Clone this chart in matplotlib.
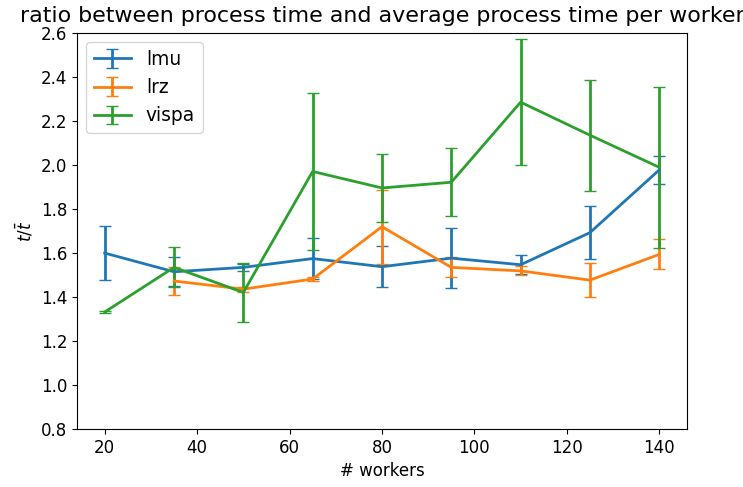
import matplotlib
matplotlib.use('Agg')
import matplotlib.pyplot as plt
import numpy as np

workers = [20, 35, 50, 65, 80, 95, 110, 125, 140]

lmu_mean = [1.60, 1.515, 1.535, 1.575, 1.538, 1.577, 1.547, 1.693, 1.978]
lmu_err = [0.123, 0.065, 0.017, 0.092, 0.094, 0.137, 0.042, 0.122, 0.064]

lrz_workers = [35, 50, 65, 80, 95, 110, 125, 140]
lrz_mean = [1.473, 1.436, 1.482, 1.72, 1.535, 1.519, 1.477, 1.594]
lrz_err = [0.062, 0.011, 0.01, 0.168, 0.045, 0.02, 0.078, 0.068]

vispa_mean = [1.332, 1.535, 1.421, 1.971, 1.896, 1.922, 2.286, 2.136, 1.990]
vispa_err = [0.003, 0.091, 0.135, 0.357, 0.155, 0.155, 0.285, 0.253, 0.366]

plt.rcParams['font.size'] = 12

fig = plt.figure(figsize=(7.43, 4.87), dpi=100)
ax = fig.add_axes([0.1036, 0.119, 0.821, 0.813])

ax.errorbar(workers, lmu_mean, yerr=lmu_err, capsize=4, label='lmu', linewidth=2)
ax.errorbar(lrz_workers, lrz_mean, yerr=lrz_err, capsize=4, label='lrz', linewidth=2)
ax.errorbar(workers, vispa_mean, yerr=vispa_err, capsize=4, label='vispa', linewidth=2)

ax.set_ylim(0.8, 2.6)
ax.set_xlabel('# workers')
ax.set_ylabel(r'$t/\bar{t}$')
ax.set_title('ratio between process time and average process time per worker',
             fontsize=15.9, pad=8)
ax.legend(loc='upper left', fontsize=13.4)

fig.savefig('out.png', dpi=100)
